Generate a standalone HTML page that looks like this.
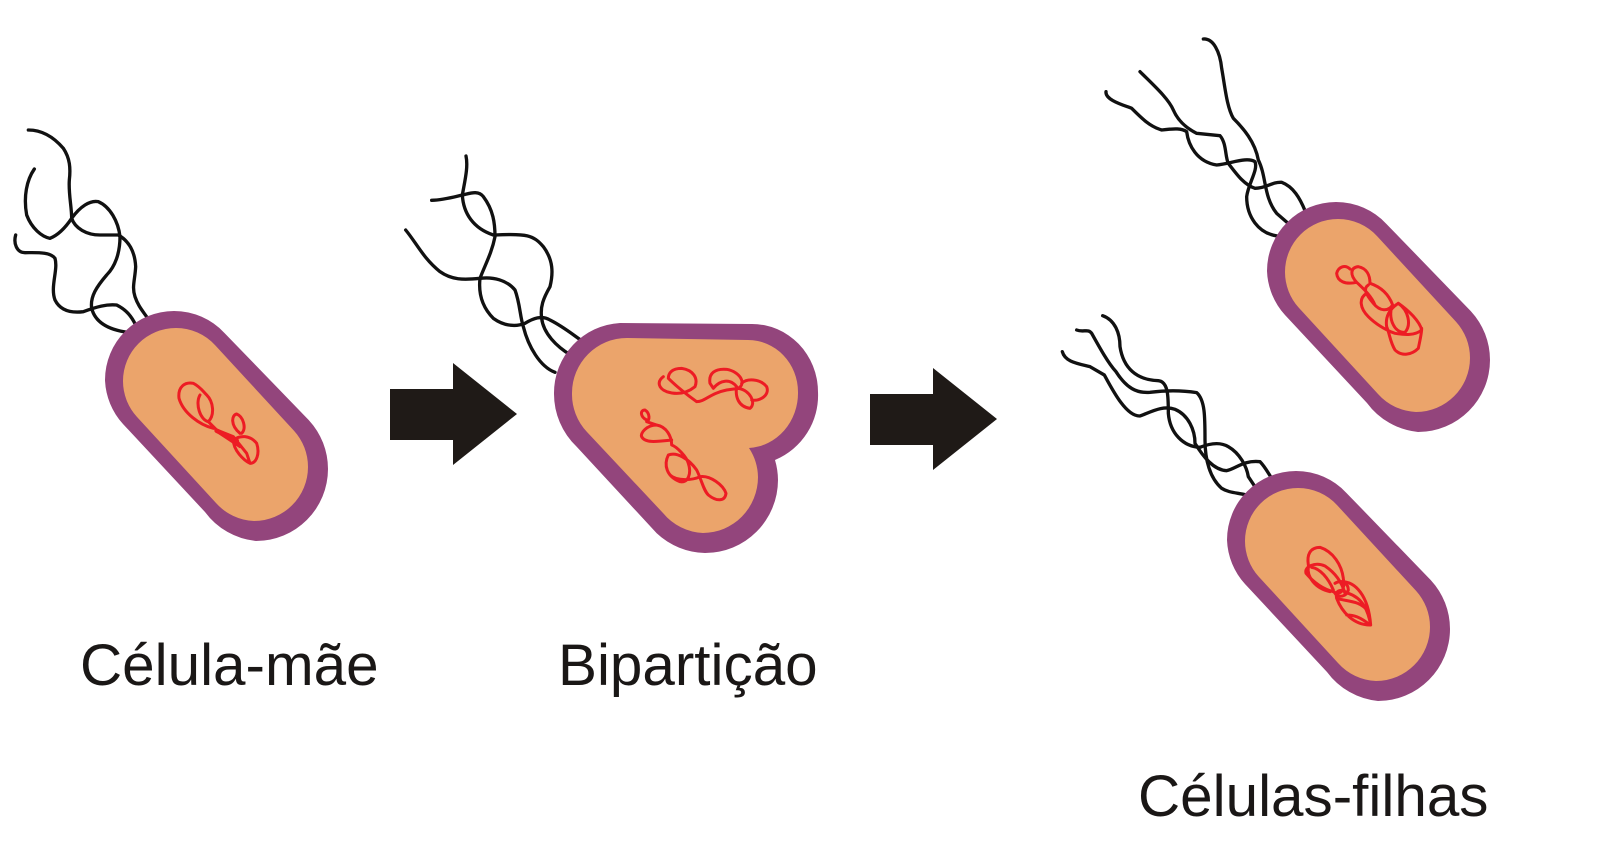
<!DOCTYPE html>
<html>
<head>
<meta charset="utf-8">
<style>
html,body{margin:0;padding:0;background:#fff;width:1600px;height:862px;overflow:hidden}
svg{display:block}
text{font-family:"Liberation Sans",sans-serif;font-size:58.4px;fill:#1a1716}
.f{fill:none;stroke:#111;stroke-width:10;stroke-linecap:round;stroke-linejoin:round}
.d{fill:none;stroke:#ed1c24;stroke-width:9;stroke-linecap:round;stroke-linejoin:round}
</style>
</head>
<body>
<svg width="1600" height="862" viewBox="0 0 1600 862" xmlns="http://www.w3.org/2000/svg">
<rect width="1600" height="862" fill="#fff"/>

<!-- Cell 1 flagella -->
<g transform="translate(0,100) scale(0.33333)">
<path class="f" d="M85,90 C125,90 160,110 190,145 C210,175 212,205 208,240 C205,280 215,320 215,355 C225,385 260,405 300,405 L355,405 C390,425 405,460 407,500 C405,540 395,560 405,590 C415,620 430,635 443,655"/>
<path class="f" d="M103,207 C80,240 70,290 80,345 C95,385 125,410 150,415 C175,405 195,385 215,355 C240,320 270,300 295,305 C330,320 355,365 360,410 C360,460 345,500 320,525 C290,560 270,590 275,625 C285,665 320,690 390,698"/>
<path class="f" d="M47,405 C40,430 50,458 75,458 C110,458 150,455 165,475 C175,510 150,560 165,600 C180,630 210,640 250,635 C290,620 320,612 350,615 C380,630 395,650 407,675"/>
</g>
<!-- Cell 1 -->
<path fill="#93457c" d="M224.7,333.2 L308.9,420.2 A72,72 0 0 1 328,469 A72,72 0 0 1 256,541 A72,72 0 0 1 205,512 L123,424 A69,69 0 0 1 105,380 A69,69 0 0 1 174,311 A69,69 0 0 1 224.7,333.2 Z"/>
<path fill="#eba46b" d="M215.3,345.4 L294,430.7 A54,54 0 0 1 308,467 A54,54 0 0 1 254,521 A54,54 0 0 1 216,503 L136.7,416.6 A53,53 0 0 1 123,381 A53,53 0 0 1 176,328 A53,53 0 0 1 215.3,345.4 Z"/>
<g transform="translate(0,100) scale(0.33333)">
<path class="d" d="M640,985 C600,975 550,940 537,895 C533,860 555,845 580,850 C600,860 610,875 620,885 C640,905 645,945 625,965 C600,960 585,910 600,885"/>
<path class="d" d="M625,965 L660,1000 L720,1040 M650,990 L700,1010 L740,1060 L750,1090 C770,1090 780,1060 770,1030 C750,1005 720,1005 700,1020 C700,1050 730,1080 750,1090 M720,1000 C690,975 695,945 710,942 C730,950 740,985 725,1000"/>
<path class="d" style="stroke-width:14" d="M650,992 L710,1022"/>
</g>

<!-- Arrow 1 -->
<polygon points="390,389 453,389 453,363 517,414 453,465 453,440 390,440" fill="#1f1a17"/>

<!-- Dividing cell flagella -->
<g transform="translate(380,130) scale(0.33333)">
<path class="f" d="M258,78 C265,110 255,150 247,195 C250,250 280,295 340,315 L345,315 C440,310 460,315 490,350 C520,390 520,430 510,470 C490,505 480,530 485,565 C490,610 530,650 572,675"/>
<path class="f" d="M155,211 C190,210 225,200 247,195 C270,190 295,180 310,200 C340,240 345,280 345,320 C335,370 315,405 300,445 C295,490 305,530 340,565 C375,590 410,590 435,580 C460,565 485,555 510,570 C550,590 580,615 605,632"/>
<path class="f" d="M77,300 C110,340 130,385 180,425 C215,450 250,450 300,445 C340,440 380,450 405,480 C420,520 420,560 430,590 C445,650 480,710 525,727"/>
</g>
<!-- Dividing cell -->
<path fill="#93457c" d="M620,323 L752,324 A66,68 0 0 1 818,392 A70,70 0 0 1 775,460 A73,73 0 0 1 778,480 A73,73 0 0 1 705,553 A73,73 0 0 1 656.7,533.3 L576.7,446.7 A73,73 0 0 1 554,393 A70,70 0 0 1 620,323 Z"/>
<path fill="#eba46b" d="M627,338 L748,340 A50,52 0 0 1 798,392 A52,55 0 0 1 749,448 A55,55 0 0 1 758,477 A55,56 0 0 1 703,533 A55,55 0 0 1 663,513 L587,432 A55,55 0 0 1 572,393 A55,55 0 0 1 627,338 Z"/>
<g transform="translate(380,130) scale(0.33333)">
<path class="d" d="M850,740 C830,755 835,775 860,785 C890,795 920,790 945,770 C955,745 940,720 905,715 C875,715 865,730 865,745 C890,770 915,790 950,815 C975,815 990,790 1040,780 L1075,775 C1100,760 1080,725 1040,718 C1005,715 985,730 990,760 L1000,775 C1020,750 1050,745 1070,770 C1065,800 1075,830 1110,835 C1130,820 1110,780 1075,775 M1085,760 C1100,745 1140,745 1160,770 C1170,795 1140,815 1115,810"/>
<path class="d" d="M800,870 C780,860 780,840 795,840 C810,850 810,870 800,875 L830,885 C860,890 875,920 875,945 C890,950 920,980 925,1000 C935,1030 925,1060 900,1055 C860,1040 850,1005 865,975 C890,965 925,985 950,1020 C965,1050 970,1080 985,1095 C1010,1115 1035,1115 1038,1090 C1030,1065 990,1035 960,1040 C940,1050 890,1055 870,1035 M830,885 C800,885 780,910 785,920 C795,940 830,935 875,930"/>
</g>

<!-- Arrow 2 -->
<polygon points="870,394 933,394 933,368 997,419 933,470 933,445 870,445" fill="#1f1a17"/>

<!-- Top daughter flagella -->
<g transform="translate(1050,20) scale(0.33333)">
<path class="f" d="M460,57 C490,55 510,95 515,145 C525,200 530,260 550,295 C580,325 615,365 625,420 C650,470 640,530 680,580 L718,613"/>
<path class="f" d="M270,155 C310,195 355,235 370,270 C385,305 410,325 440,340 L510,347 C530,370 525,410 535,430 C565,470 585,495 615,505 C650,505 665,485 695,487 C730,500 750,535 765,572"/>
<path class="f" d="M168,215 C165,240 220,255 245,265 C275,295 300,320 335,330 C375,325 395,325 410,335 C415,375 440,425 500,435 C545,430 590,410 615,425 C625,450 595,490 590,530 C590,590 625,640 682,648"/>
</g>
<!-- Top daughter -->
<g transform="translate(1162,-109)">
<path fill="#93457c" d="M224.7,333.2 L308.9,420.2 A72,72 0 0 1 328,469 A72,72 0 0 1 256,541 A72,72 0 0 1 205,512 L123,424 A69,69 0 0 1 105,380 A69,69 0 0 1 174,311 A69,69 0 0 1 224.7,333.2 Z"/>
<path fill="#eba46b" d="M215.3,345.4 L294,430.7 A54,54 0 0 1 308,467 A54,54 0 0 1 254,521 A54,54 0 0 1 216,503 L136.7,416.6 A53,53 0 0 1 123,381 A53,53 0 0 1 176,328 A53,53 0 0 1 215.3,345.4 Z"/>
</g>
<g transform="translate(1330,255) scale(0.33333)" fill="none" stroke="#ed1c24" stroke-linejoin="round" stroke-linecap="round" style="stroke-width:9">
<path d="M60,42 C45,28 25,35 20,55 C22,78 45,90 80,82 C60,60 60,38 85,35 C110,40 120,60 120,85 C150,95 175,115 188,150 C175,170 150,170 130,145 C105,115 100,100 115,90 M80,82 C105,105 125,125 135,150"/>
<path d="M110,115 C85,130 90,160 115,185 C135,205 165,225 195,235 C225,240 255,242 275,225 C270,200 235,165 205,145 C180,160 165,185 170,215 C180,240 180,260 195,285 C215,305 245,300 265,280 C270,255 275,235 275,220"/>
<path d="M205,145 C235,165 245,210 225,232 C195,235 175,195 185,155"/>
</g>

<!-- Bottom daughter flagella -->
<g transform="translate(1040,310) scale(0.33333)">
<path class="f" d="M188,17 C225,30 240,70 240,110 C250,175 290,210 355,212 C385,215 385,260 385,310 C390,370 430,410 480,412 C510,400 540,395 565,410 C600,430 620,470 625,500 L645,530"/>
<path class="f" d="M110,60 C130,68 145,55 155,70 C180,115 205,160 228,185 C260,235 290,250 330,247 C370,242 420,240 470,248 C495,270 495,320 495,390 C495,450 510,505 545,535 C565,548 590,548 620,555"/>
<path class="f" d="M67,125 C75,155 110,160 150,170 L193,195 C220,245 260,320 300,318 C335,305 370,285 405,298 C445,315 465,360 465,400 C490,440 520,480 560,482 C590,475 610,450 660,455 C675,470 685,490 695,505"/>
</g>
<!-- Bottom daughter -->
<g transform="translate(1122,160)">
<path fill="#93457c" d="M224.7,333.2 L308.9,420.2 A72,72 0 0 1 328,469 A72,72 0 0 1 256,541 A72,72 0 0 1 205,512 L123,424 A69,69 0 0 1 105,380 A69,69 0 0 1 174,311 A69,69 0 0 1 224.7,333.2 Z"/>
<path fill="#eba46b" d="M215.3,345.4 L294,430.7 A54,54 0 0 1 308,467 A54,54 0 0 1 254,521 A54,54 0 0 1 216,503 L136.7,416.6 A53,53 0 0 1 123,381 A53,53 0 0 1 176,328 A53,53 0 0 1 215.3,345.4 Z"/>
</g>
<g transform="translate(1300,540) scale(0.33333)" fill="none" stroke="#ed1c24" stroke-linejoin="round" stroke-linecap="round" style="stroke-width:9">
<path d="M25,75 C20,45 30,22 60,22 C100,35 125,75 130,115 C135,145 125,170 100,155 C60,145 35,120 18,100 C12,80 45,65 75,78 C105,98 125,125 135,160"/>
<path d="M25,80 C20,110 45,145 90,155 M35,82 C60,85 85,115 100,150"/>
<path d="M125,125 C165,125 205,165 212,255 C205,215 190,175 145,160 C120,145 105,150 110,175 C125,215 160,255 210,255 C180,230 160,225 140,225 M110,175 C140,185 180,180 205,215"/>
<path d="M105,130 C125,118 145,130 145,150 C140,170 115,175 105,160"/>
</g>

<!-- Labels -->
<text x="80" y="685">Célula-mãe</text>
<text x="558" y="685">Bipartição</text>
<text x="1138" y="816">Células-filhas</text>
</svg>
</body>
</html>
